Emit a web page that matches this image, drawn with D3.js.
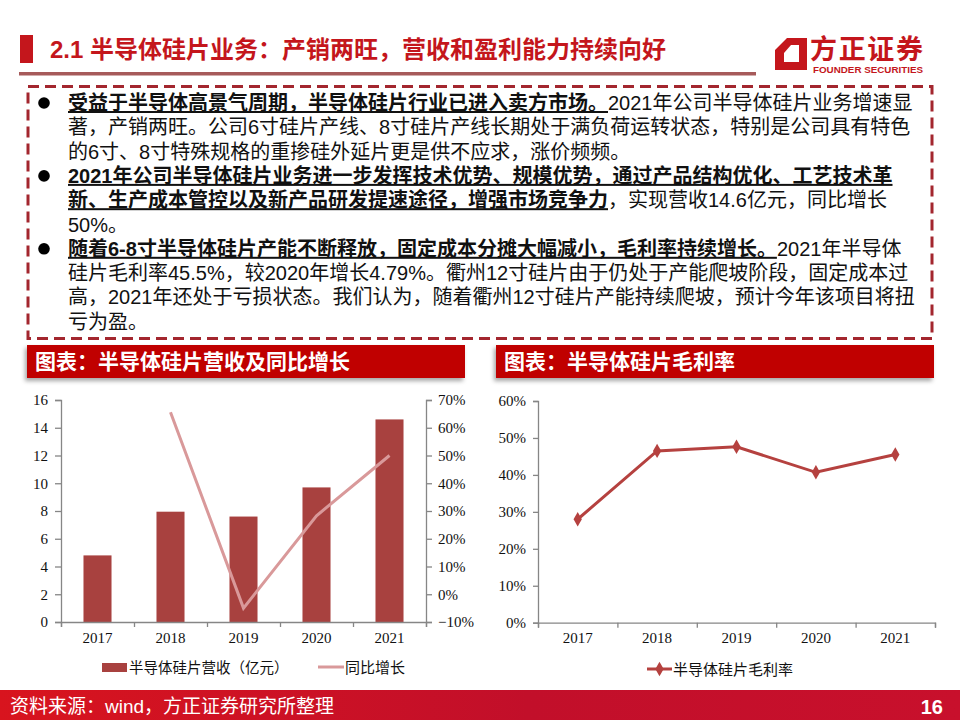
<!DOCTYPE html>
<html>
<head>
<meta charset="utf-8">
<script src="https://cdn.jsdelivr.net/npm/d3@7"></script>
<style>
  body { margin: 0; background: #fff; }
  svg { display: block; }
  .serif { font-family: "Liberation Serif", "Times New Roman", serif; font-size: 15px; fill: #111; }
  .cjk { font-family: "Liberation Sans", "Noto Sans CJK SC", sans-serif; }
</style>
</head>
<body>
<div id="slide"></div>
<script>
// ---- data ----
const years = ["2017", "2018", "2019", "2020", "2021"];
const revenue = [4.8, 7.95, 7.6, 9.7, 14.6];          // 亿元
const yoyGrowth = [null, 0.656, -0.05, 0.283, 0.50];
const grossMargin = [0.280, 0.465, 0.476, 0.407, 0.455];
const revTicks = [0, 2, 4, 6, 8, 10, 12, 14, 16];
const yoyTicks = [-0.1, 0, 0.1, 0.2, 0.3, 0.4, 0.5, 0.6, 0.7];
const marginTicks = [0, 0.1, 0.2, 0.3, 0.4, 0.5, 0.6];

const title = "2.1 半导体硅片业务：产销两旺，营收和盈利能力持续向好";
// each line: list of [text, emphasised]
const bodyLines = [
  [["受益于半导体高景气周期，半导体硅片行业已进入卖方市场。", true], ["2021年公司半导体硅片业务增速显", false]],
  [["著，产销两旺。公司6寸硅片产线、8寸硅片产线长期处于满负荷运转状态，特别是公司具有特色", false]],
  [["的6寸、8寸特殊规格的重掺硅外延片更是供不应求，涨价频频。", false]],
  [["2021年公司半导体硅片业务进一步发挥技术优势、规模优势，通过产品结构优化、工艺技术革", true]],
  [["新、生产成本管控以及新产品研发提速途径，增强市场竞争力", true], ["，实现营收14.6亿元，同比增长", false]],
  [["50%。", false]],
  [["随着6-8寸半导体硅片产能不断释放，固定成本分摊大幅减小，毛利率持续增长。", true], ["2021年半导体", false]],
  [["硅片毛利率45.5%，较2020年增长4.79%。衢州12寸硅片由于仍处于产能爬坡阶段，固定成本过", false]],
  [["高，2021年还处于亏损状态。我们认为，随着衢州12寸硅片产能持续爬坡，预计今年该项目将扭", false]],
  [["亏为盈。", false]]
];
const bulletLines = [0, 3, 6];

const red = "#c4161c";
const barColor = "#a8413f";
const yoyColor = "#d9999a";
const marginColor = "#b5413f";
const axisColor = "#868686";

const width = 960, height = 720;

const svg = d3.select("#slide")
  .append("svg")
  .attr("width", width)
  .attr("height", height)
  .attr("viewBox", `0 0 ${width} ${height}`);

const defs = svg.append("defs");
defs.append("filter").attr("id", "shadow")
  .attr("x", "-5%").attr("y", "-20%").attr("width", "110%").attr("height", "150%")
  .append("feDropShadow")
  .attr("dx", -2).attr("dy", 3).attr("stdDeviation", 2)
  .attr("flood-color", "#000").attr("flood-opacity", 0.35);

const footGrad = defs.append("linearGradient").attr("id", "footGrad");
footGrad.append("stop").attr("offset", "0%").attr("stop-color", "#d8141e");
footGrad.append("stop").attr("offset", "55%").attr("stop-color", "#c20f2a");
footGrad.append("stop").attr("offset", "100%").attr("stop-color", "#c8102c");

// ---- header ----
svg.append("rect").attr("x", 20).attr("y", 35).attr("width", 13).attr("height", 28).attr("fill", red);
svg.append("text")
  .attr("class", "cjk")
  .attr("x", 50).attr("y", 58)
  .attr("font-size", 24).attr("font-weight", "bold")
  .attr("fill", red)
  .text(title);
svg.append("rect").attr("x", 19).attr("y", 72).attr("width", 737).attr("height", 3.5).attr("fill", "#a65a5a");

// logo
const logo = svg.append("g");
logo.append("path")
  .attr("d", "M787,38 L807,38 L807,70 L775,70 L775,50 Z M784,53 L784,62 L799,62 L799,45 L791,45 Z")
  .attr("fill", red).attr("fill-rule", "evenodd");
logo.append("text")
  .attr("class", "cjk")
  .attr("x", 810).attr("y", 58.5)
  .attr("font-size", 27).attr("font-weight", "bold")
  .attr("fill", red)
  .attr("textLength", 113)
  .text("方正证券");
logo.append("text")
  .attr("x", 813).attr("y", 73)
  .attr("font-family", "Liberation Sans, Arial, sans-serif")
  .attr("font-size", 9.5).attr("font-weight", "bold")
  .attr("fill", red)
  .attr("textLength", 110)
  .attr("lengthAdjust", "spacingAndGlyphs")
  .text("FOUNDER SECURITIES");

// ---- text box ----
svg.append("rect")
  .attr("x", 28).attr("y", 86.5)
  .attr("width", 904).attr("height", 252)
  .attr("fill", "none")
  .attr("stroke", "#a3262e")
  .attr("stroke-width", 3)
  .attr("stroke-dasharray", "11,6");

const lineY = i => 103 + i * 24.3;

svg.selectAll(".bullet")
  .data(bulletLines)
  .join("circle")
  .attr("class", "bullet")
  .attr("cx", 44).attr("cy", d => lineY(d))
  .attr("r", 5.8)
  .attr("fill", "#000");

svg.append("g")
  .selectAll("text")
  .data(bodyLines)
  .join("text")
  .attr("class", "cjk")
  .attr("x", 68)
  .attr("y", (d, i) => lineY(i) + 7)
  .attr("font-size", 20)
  .attr("fill", "#111")
  .selectAll("tspan")
  .data(d => d)
  .join("tspan")
  .attr("font-weight", d => d[1] ? "bold" : "normal")
  .style("text-decoration", d => d[1] ? "underline" : "none")
  .text(d => d[0]);

// ---- panel headers ----
const panels = [
  { x: 27, text: "图表：半导体硅片营收及同比增长" },
  { x: 496, text: "图表：半导体硅片毛利率" }
];
panels.forEach(p => {
  svg.append("rect")
    .attr("x", p.x).attr("y", 345)
    .attr("width", 438).attr("height", 33)
    .attr("fill", "#c00000")
    .attr("filter", "url(#shadow)");
  svg.append("text")
    .attr("class", "cjk")
    .attr("x", p.x + 8).attr("y", 369)
    .attr("font-size", 21).attr("font-weight", "bold")
    .attr("fill", "#fff")
    .text(p.text);
});

const styleAxis = g => {
  g.selectAll(".domain").attr("stroke", axisColor).attr("stroke-width", 1.3);
  g.selectAll(".tick line").attr("stroke", axisColor).attr("stroke-width", 1.3);
  g.selectAll(".tick text").attr("class", "serif").attr("fill", "#111");
};

// ---- chart 1: revenue + yoy ----
const x1 = d3.scaleBand().domain(years).range([61, 426]).paddingInner(0.616).paddingOuter(0.308);
const y1 = d3.scaleLinear().domain([0, 16]).range([622, 400]);
const y1r = d3.scaleLinear().domain([-0.1, 0.7]).range([622, 400]);
const x1Edges = d3.scaleLinear().domain([0, years.length]).range([61, 426]);

const c1 = svg.append("g");

c1.selectAll(".bar")
  .data(years)
  .join("rect")
  .attr("class", "bar")
  .attr("x", d => x1(d))
  .attr("y", (d, i) => y1(revenue[i]))
  .attr("width", x1.bandwidth())
  .attr("height", (d, i) => y1(0) - y1(revenue[i]))
  .attr("fill", barColor);

const yoyLine = d3.line()
  .defined(d => d.v !== null)
  .x(d => x1(d.year) + x1.bandwidth() / 2)
  .y(d => y1r(d.v));

c1.append("path")
  .datum(years.map((year, i) => ({ year, v: yoyGrowth[i] })))
  .attr("d", yoyLine)
  .attr("fill", "none")
  .attr("stroke", yoyColor)
  .attr("stroke-width", 3);

c1.append("g")
  .attr("transform", "translate(61,0)")
  .call(d3.axisLeft(y1).tickValues(revTicks).tickSize(6).tickPadding(7))
  .call(styleAxis);

c1.append("g")
  .attr("transform", "translate(426,0)")
  .call(d3.axisRight(y1r).tickValues(yoyTicks).tickFormat(d3.format(".0%")).tickSize(6).tickPadding(6))
  .call(styleAxis);

c1.append("g")
  .attr("transform", "translate(0,622)")
  .call(d3.axisBottom(x1Edges).ticks(years.length).tickFormat("").tickSize(5))
  .call(styleAxis);

c1.append("g")
  .attr("transform", "translate(0,622)")
  .call(d3.axisBottom(x1).tickSize(0).tickPadding(10))
  .call(g => g.select(".domain").remove())
  .call(styleAxis);

// legend 1
c1.append("rect").attr("x", 102).attr("y", 663).attr("width", 25).attr("height", 9).attr("fill", barColor);
c1.append("text").attr("class", "cjk").attr("x", 129).attr("y", 672.5)
  .attr("font-size", 14.5).attr("fill", "#111").text("半导体硅片营收（亿元）");
c1.append("line").attr("x1", 318).attr("x2", 344).attr("y1", 667).attr("y2", 667)
  .attr("stroke", yoyColor).attr("stroke-width", 3);
c1.append("text").attr("class", "cjk").attr("x", 345).attr("y", 672.5)
  .attr("font-size", 15).attr("fill", "#111").text("同比增长");

// ---- chart 2: gross margin ----
const x2 = d3.scaleBand().domain(years).range([538, 935]);
const y2 = d3.scaleLinear().domain([0, 0.6]).range([622.7, 401]);
const x2Edges = d3.scaleLinear().domain([0, years.length]).range([538, 935]);

const c2 = svg.append("g");

c2.append("g")
  .attr("transform", "translate(538,0)")
  .call(d3.axisLeft(y2).tickValues(marginTicks).tickFormat(d3.format(".0%")).tickSize(5).tickPadding(7))
  .call(styleAxis);

c2.append("g")
  .attr("transform", "translate(0,622.7)")
  .call(d3.axisBottom(x2Edges).ticks(years.length).tickFormat("").tickSize(5))
  .call(styleAxis);

c2.append("g")
  .attr("transform", "translate(0,622.7)")
  .call(d3.axisBottom(x2).tickSize(0).tickPadding(10))
  .call(g => g.select(".domain").remove())
  .call(styleAxis);

const marginLine = d3.line()
  .x((d, i) => x2(years[i]) + x2.bandwidth() / 2)
  .y(d => y2(d));

c2.append("path")
  .datum(grossMargin)
  .attr("d", marginLine)
  .attr("fill", "none")
  .attr("stroke", marginColor)
  .attr("stroke-width", 3);

const diamond = d3.symbol().type(d3.symbolDiamond).size(60);
c2.selectAll(".pt")
  .data(grossMargin)
  .join("path")
  .attr("class", "pt")
  .attr("d", diamond)
  .attr("transform", (d, i) => `translate(${x2(years[i]) + x2.bandwidth() / 2},${y2(d)})`)
  .attr("fill", marginColor);

// legend 2
c2.append("line").attr("x1", 647).attr("x2", 672).attr("y1", 669).attr("y2", 669)
  .attr("stroke", marginColor).attr("stroke-width", 3);
c2.append("path").attr("d", diamond).attr("transform", "translate(659.5,669)").attr("fill", marginColor);
c2.append("text").attr("class", "cjk").attr("x", 673).attr("y", 674.5)
  .attr("font-size", 15).attr("fill", "#111").text("半导体硅片毛利率");

// ---- footer ----
svg.append("rect").attr("x", 0).attr("y", 690).attr("width", width).attr("height", 30).attr("fill", "url(#footGrad)");
svg.append("text").attr("class", "cjk").attr("x", 10).attr("y", 713)
  .attr("font-size", 19).attr("fill", "#fff").text("资料来源：wind，方正证券研究所整理");
svg.append("text").attr("x", 943).attr("y", 714)
  .attr("text-anchor", "end")
  .attr("font-family", "Liberation Sans, Arial, sans-serif")
  .attr("font-size", 20).attr("font-weight", "bold")
  .attr("fill", "#fff").text("16");
</script>
</body>
</html>
